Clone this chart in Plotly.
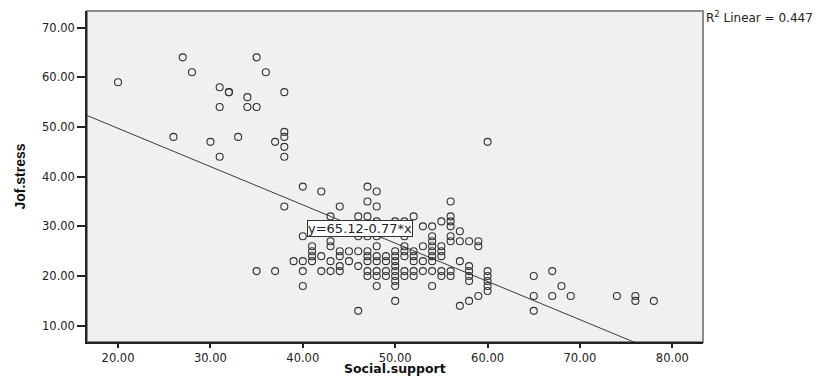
import numpy as np
import plotly.graph_objects as go

# Data (Social.support vs Jof.stress)
social_support = [
    20, 27, 28, 31, 32, 32, 34, 31, 34, 35, 35, 36, 38, 26, 30, 33, 31, 37, 38, 38, 38, 38, 60,
    40, 47,
    42, 48,
    47, 56,
    38, 44, 48,
    43, 46, 47, 52, 56,
    48, 50, 51, 55, 56,
    53, 54, 56,
    51, 57,
    40, 46, 47, 48, 51, 54, 56,
    43, 54, 56, 57, 58, 59,
    41, 43, 48, 51, 53, 54, 55, 59,
    41, 44, 45, 46, 47, 50, 51, 52, 54, 55,
    41, 42, 44, 47, 48, 49, 50, 51, 52, 54, 55,
    39, 40, 41, 43, 45, 47, 48, 49, 50, 52, 53, 54, 57,
    44, 46, 50, 58,
    35, 37, 40, 42, 43, 44, 47, 48, 49, 50, 51, 52, 53, 54, 55, 56, 58, 60, 67,
    47, 48, 49, 50, 51, 52, 55, 56, 58, 60, 65,
    50, 58, 60,
    40, 48, 50, 54, 60, 68,
    60,
    59, 65, 67, 69, 74, 76,
    50, 58, 76, 78,
    57,
    46, 65,
]
jof_stress = [
    59, 64, 61, 58, 57, 57, 56, 54, 54, 54, 64, 61, 57, 48, 47, 48, 44, 47, 49, 48, 46, 44, 47,
    38, 38,
    37, 37,
    35, 35,
    34, 34, 34,
    32, 32, 32, 32, 32,
    31, 31, 31, 31, 31,
    30, 30, 30,
    29, 29,
    28, 28, 28, 28, 28, 28, 28,
    27, 27, 27, 27, 27, 27,
    26, 26, 26, 26, 26, 26, 26, 26,
    25, 25, 25, 25, 25, 25, 25, 25, 25, 25,
    24, 24, 24, 24, 24, 24, 24, 24, 24, 24, 24,
    23, 23, 23, 23, 23, 23, 23, 23, 23, 23, 23, 23, 23,
    22, 22, 22, 22,
    21, 21, 21, 21, 21, 21, 21, 21, 21, 21, 21, 21, 21, 21, 21, 21, 21, 21, 21,
    20, 20, 20, 20, 20, 20, 20, 20, 20, 20, 20,
    19, 19, 19,
    18, 18, 18, 18, 18, 18,
    17,
    16, 16, 16, 16, 16, 16,
    15, 15, 15, 15,
    14,
    13, 13,
]

intercept = 65.12
slope = -0.77
r_squared = 0.447

x_ticks = [20, 30, 40, 50, 60, 70, 80]
y_ticks = [10, 20, 30, 40, 50, 60, 70]
x_range = [16.64, 83.32]
y_range = [6.73, 73.33]

line_x = np.array(x_range)
line_y = intercept + slope * line_x

fig = go.Figure()
fig.add_trace(go.Scatter(
    x=line_x, y=line_y, mode="lines",
    line=dict(color="#3a3a3a", width=1),
    hoverinfo="skip", showlegend=False,
))
fig.add_trace(go.Scatter(
    x=social_support, y=jof_stress, mode="markers",
    marker=dict(symbol="circle-open", size=7, color="#333333",
                line=dict(width=1.1, color="#333333")),
    showlegend=False,
))

tickfont = dict(family="DejaVu Sans", size=11.5, color="#222222")

fig.update_layout(
    width=816, height=378,
    margin=dict(l=87, r=113, t=11, b=36),
    paper_bgcolor="white",
    plot_bgcolor="#f0f0f0",
    xaxis=dict(
        range=x_range, tickvals=x_ticks,
        ticktext=[f"{v:.2f}" for v in x_ticks],
        showgrid=False, zeroline=False, automargin=False,
        showline=True, linecolor="#222222", linewidth=1.5,
        ticks="outside", ticklen=4, tickwidth=1.5, tickcolor="#222222",
        tickfont=tickfont,
    ),
    yaxis=dict(
        range=y_range, tickvals=y_ticks,
        ticktext=[f"{v:.2f}" for v in y_ticks],
        showgrid=False, zeroline=False, automargin=False,
        showline=True, linecolor="#222222", linewidth=1.5,
        ticks="outside", ticklen=8, tickwidth=1.5, tickcolor="#222222",
        tickfont=tickfont,
        title=dict(text="Jof.stress",
                   font=dict(family="Liberation Sans", size=14, color="#111111", weight="bold"),
                   standoff=13),
    ),
    shapes=[
        dict(type="rect", xref="paper", yref="paper", x0=0, x1=1, y0=0, y1=1,
             line=dict(color="#8a8a8a", width=2), layer="below"),
    ],
    annotations=[
        dict(x=0.5, y=-0.081, xref="paper", yref="paper", xanchor="center", yanchor="middle",
             text="<b>Social.support</b>", showarrow=False,
             font=dict(family="DejaVu Sans", size=12.5, color="#111111")),
        dict(x=46.2, y=29.6, xref="x", yref="y",
             text=f"y={intercept:.2f}-{abs(slope):.2f}*x",
             showarrow=False, bgcolor="white", bordercolor="#333333", borderwidth=1,
             borderpad=0, font=dict(family="DejaVu Sans", size=13, color="#222222")),
        dict(x=1, y=0.981, xref="paper", yref="paper", xanchor="left", yanchor="middle",
             xshift=1, text=f"R<sup>2</sup> Linear = {r_squared}",
             showarrow=False, font=dict(family="DejaVu Sans", size=12, color="#222222")),
    ],
)

fig.write_html("out.html", config={"displayModeBar": False},
               post_script="document.body.style.margin='0';document.body.style.padding='0';")
